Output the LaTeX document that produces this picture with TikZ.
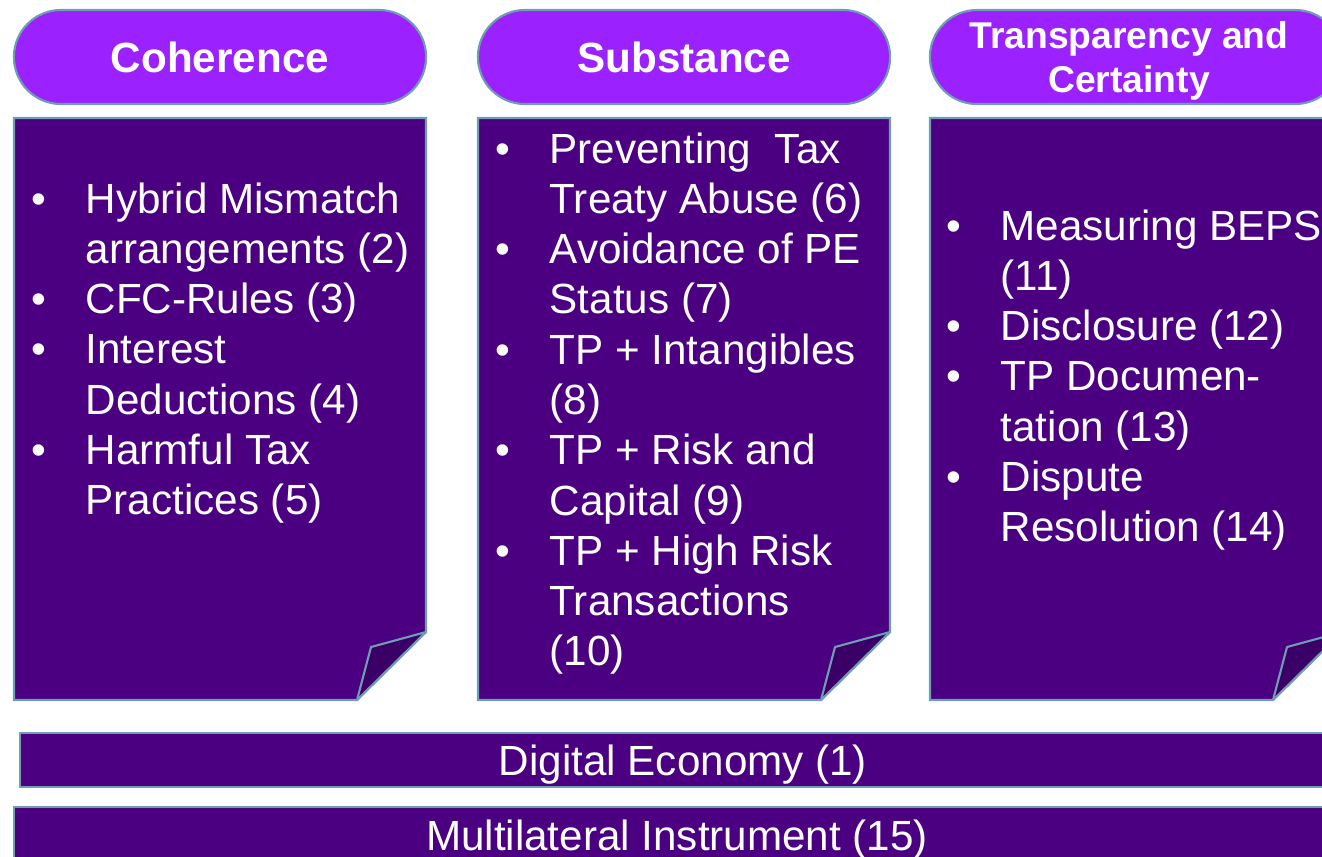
\documentclass[tikz,border=0pt]{standalone}
\usepackage{fontspec}
\setmainfont{Liberation Sans}
\usepackage{tikz}

\definecolor{pillviolet}{HTML}{9B22FF}
\definecolor{boxindigo}{HTML}{4B0082}
\definecolor{foldindigo}{HTML}{3B0068}
\definecolor{edgeblue}{HTML}{6F9DB4}

\tikzset{
  pill/.style={draw=edgeblue, line width=0.6pt, fill=pillviolet,
    rounded corners=0.47cm, minimum width=4.12cm, minimum height=0.94cm,
    inner sep=0pt, text=white, font=\fontsize{12}{14.3}\selectfont\bfseries, align=center},
  sheet/.style={draw=edgeblue, line width=0.6pt, fill=boxindigo},
  fold/.style={draw=edgeblue, line width=0.6pt, fill=foldindigo, line join=round},
  itemtext/.style={text=white, font=\fontsize{12}{14.3}\selectfont,
    inner sep=0pt, anchor=base west},
  bartext/.style={text=white, font=\fontsize{12}{14.3}\selectfont,
    inner sep=0pt, anchor=base}
}

\begin{document}
\begin{tikzpicture}[x=0.01cm, y=-0.01cm]
  \useasboundingbox (0,0) rectangle (1322,856);
  \clip (0,0) rectangle (1322,856);

  % column headers
  \node[pill] (coherence) at (220,57) {Coherence};
  \node[pill] (substance) at (684,57) {Substance};
  \node[pill] (transparency) at (1136,57) {};
  \node[text=white, align=center, inner sep=0pt,
    font=\fontsize{10.6}{12.5}\selectfont\bfseries] (transparencytext)
    at ([xshift=-0.07cm, yshift=-0.04cm]transparency.center) {Transparency and\\Certainty};

  % sheets with a turned-up corner
  \foreach \x in {14,478,930} {
    \draw[sheet] (\x,118) -- (\x+412,118) -- (\x+412,632) -- (\x+343,700) -- (\x,700) -- cycle;
    \draw[fold] (\x+343,700) -- (\x+357,647) -- (\x+412,632) -- cycle;
  }

  % bars along the bottom
  \draw[sheet] (20,733) rectangle (1348,787);
  \draw[sheet] (14,807) rectangle (1340,880);

  % actions in each column
  \node[itemtext] (cohlist) at (31,213) {\begin{tabular}[t]{@{}p{0.54cm}@{}l@{}}
    •&Hybrid Mismatch\\ &arrangements (2)\\
    •&CFC-Rules (3)\\
    •&Interest\\ &Deductions (4)\\
    •&Harmful Tax\\ &Practices (5)
  \end{tabular}};
  \node[itemtext] (sublist) at (495,163) {\begin{tabular}[t]{@{}p{0.54cm}@{}l@{}}
    •&Preventing~ Tax\\ &Treaty Abuse (6)\\
    •&Avoidance of PE\\ &Status (7)\\
    •&TP + Intangibles\\ &(8)\\
    •&TP + Risk and\\ &Capital (9)\\
    •&TP + High Risk\\ &Transactions\\ &(10)
  \end{tabular}};
  \node[itemtext] (tralist) at (946,240) {\begin{tabular}[t]{@{}p{0.54cm}@{}l@{}}
    •&Measuring BEPS\\ &(11)\\
    •&Disclosure (12)\\
    •&TP Documen-\\ &tation (13)\\
    •&Dispute\\ &Resolution (14)
  \end{tabular}};

  \node[bartext] (digital) at (683,775) {Digital Economy (1)};
  \node[bartext] (multilateral) at (677,850) {Multilateral Instrument (15)};
\end{tikzpicture}
\end{document}
